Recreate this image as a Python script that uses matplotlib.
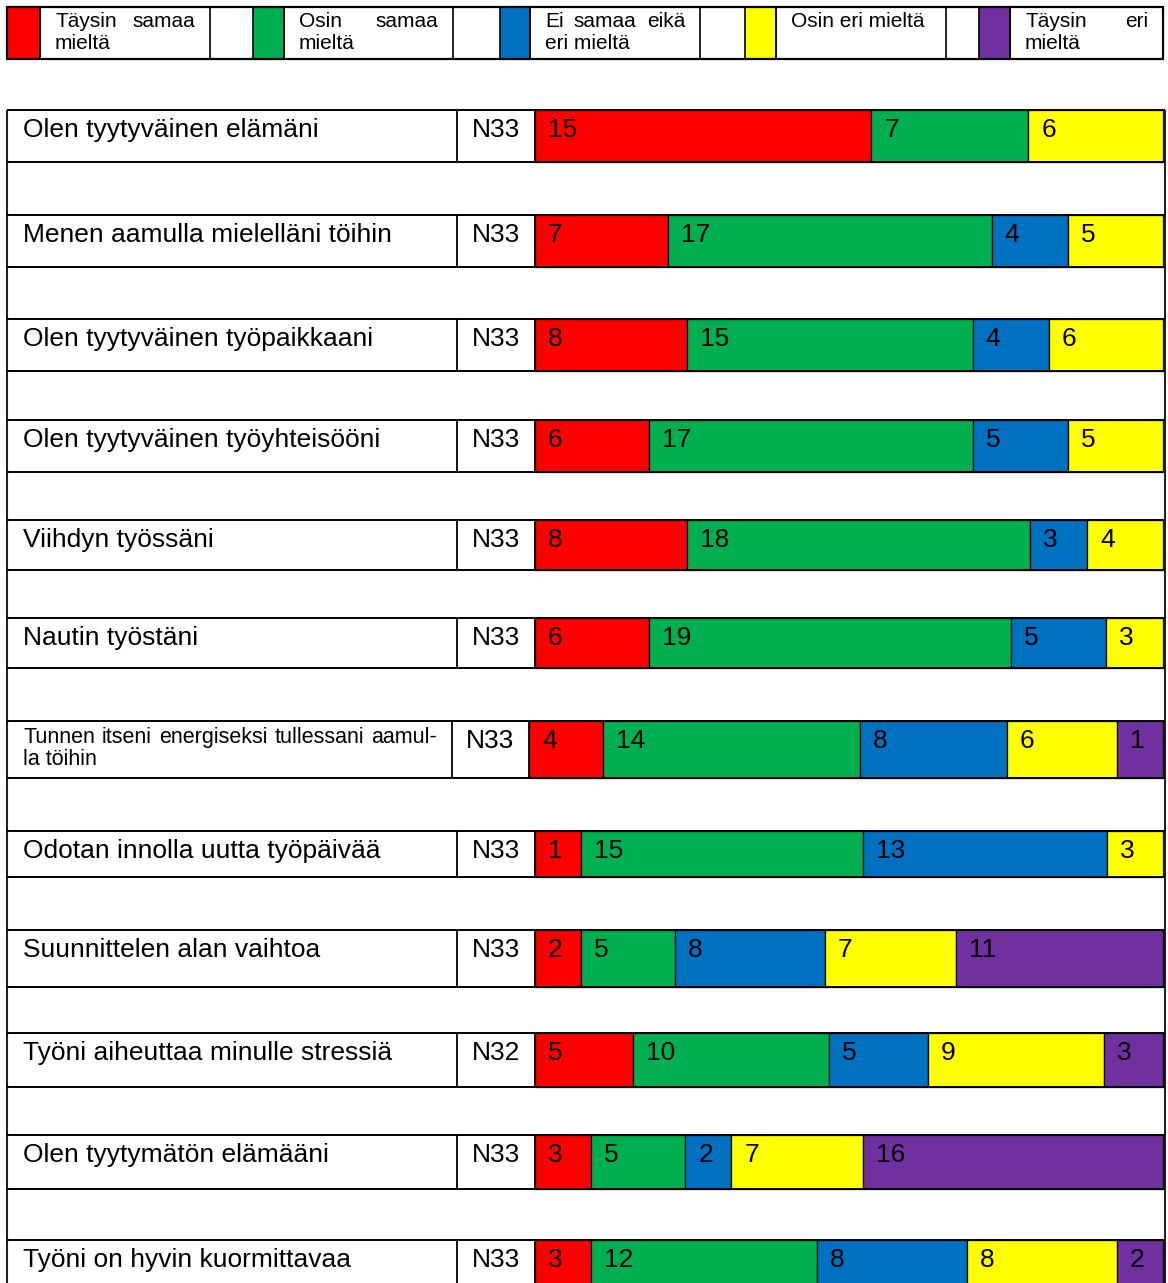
import matplotlib.pyplot as plt
from matplotlib.patches import Rectangle

plt.rcParams['font.family'] = ['Liberation Sans', 'DejaVu Sans']

# Väittämät ja vastausjakaumat
vaittamat = [
    "Olen tyytyväinen elämäni",
    "Menen aamulla mielelläni töihin",
    "Olen tyytyväinen työpaikkaani",
    "Olen tyytyväinen työyhteisööni",
    "Viihdyn työssäni",
    "Nautin työstäni",
    "Tunnen itseni energiseksi tullessani aamul-\nla töihin",
    "Odotan innolla uutta työpäivää",
    "Suunnittelen alan vaihtoa",
    "Työni aiheuttaa minulle stressiä",
    "Olen tyytymätön elämääni",
    "Työni on hyvin kuormittavaa",
]
vastaajat = [33, 33, 33, 33, 33, 33, 33, 33, 33, 32, 33, 33]

taysin_samaa = [15, 7, 8, 6, 8, 6, 4, 1, 2, 5, 3, 3]
osin_samaa = [7, 17, 15, 17, 18, 19, 14, 15, 5, 10, 5, 12]
ei_samaa_eika_eri = [0, 4, 4, 5, 3, 5, 8, 13, 8, 5, 2, 8]
osin_eri = [6, 5, 6, 5, 4, 3, 6, 3, 7, 9, 7, 8]
taysin_eri = [0, 0, 0, 0, 0, 0, 1, 0, 11, 3, 16, 2]

vaihtoehdot = ["Täysin samaa\nmieltä", "Osin samaa\nmieltä", "Ei samaa eikä\neri mieltä",
               "Osin eri mieltä", "Täysin eri\nmieltä"]
varit = ["#FF0000", "#00B050", "#0070C0", "#FFFF00", "#7030A0"]

sarjat = [taysin_samaa, osin_samaa, ei_samaa_eika_eri, osin_eri, taysin_eri]

# taulukon asettelu (pikseleinä)
W, H = 1168, 1283
rivi_yla = [110, 215, 319, 420, 520, 618, 721, 831, 930, 1033, 1135, 1240]
rivi_kork = [52, 52, 52, 52, 50, 50, 57, 46, 57, 54, 54, 52]
vasen, oikea = 7, 1165
palkki_loppu = 1163
min_solu = 46   # kapein solu, johon luku mahtuu
legenda_reunat = [7, 40, 210, 253, 284, 453, 500, 530, 700, 745, 776, 946, 979, 1010, 1163]

fig = plt.figure(figsize=(W / 100, H / 100), dpi=100)
ax = fig.add_axes([0, 0, 1, 1])
ax.set_xlim(0, W)
ax.set_ylim(H, 0)
ax.axis('off')
renderer = fig.canvas.get_renderer()


def tasaa(sanat, x0, x1, y, **kw):
    # tasattu rivi: sanat levitetään koko leveydelle
    tekstit = [ax.text(0, y, s, ha='left', va='baseline', **kw) for s in sanat]
    lev = [t.get_window_extent(renderer).width for t in tekstit]
    vali = (x1 - x0 - sum(lev)) / max(len(sanat) - 1, 1)
    x = x0
    for t, w in zip(tekstit, lev):
        t.set_x(x)
        x += w + vali


def solujen_leveydet(arvot, leveys):
    # leveydet suhteessa arvoihin, pienimmille kuitenkin vähimmäisleveys
    kiinteat = set()
    while True:
        vapaa = leveys - min_solu * len(kiinteat)
        loput = sum(a for k, a in enumerate(arvot) if k not in kiinteat)
        lev = [min_solu if k in kiinteat else a * vapaa / loput for k, a in enumerate(arvot)]
        uudet = {k for k, w in enumerate(lev) if w < min_solu and k not in kiinteat}
        if not uudet:
            return lev
        kiinteat |= uudet


# --- selite ---
leg_yla, leg_ala = 7, 59
ax.add_patch(Rectangle((legenda_reunat[0], leg_yla), legenda_reunat[-1] - legenda_reunat[0],
                       leg_ala - leg_yla, fill=False, lw=1.6, ec='black', zorder=5))
for i, (nimi, vari) in enumerate(zip(vaihtoehdot, varit)):
    x_v, x_t, x_l = legenda_reunat[3 * i], legenda_reunat[3 * i + 1], legenda_reunat[3 * i + 2]
    ax.add_patch(Rectangle((x_v, leg_yla), x_t - x_v, leg_ala - leg_yla, fc=vari, ec='black', lw=1.2))
    ax.vlines([x_t, x_l], leg_yla, leg_ala, colors='black', lw=1.2)
    rivit = nimi.split("\n")
    for j, r in enumerate(rivit):
        y = 27 + 22 * j
        if j < len(rivit) - 1:
            tasaa(r.split(" "), x_t + 15, x_l - 15, y, fontsize=15)
        else:
            ax.text(x_t + 15, y, r, ha='left', va='baseline', fontsize=15)

# --- taulukon ulkoreunat ---
ax.vlines([vasen, oikea], rivi_yla[0], H, colors='#222222', lw=1.5)

# --- rivit ---
for i, teksti in enumerate(vaittamat):
    yla, kork = rivi_yla[i], rivi_kork[i]
    kaksirivinen = "\n" in teksti
    n_reuna = 452 if kaksirivinen else 457
    p_reuna = 529 if kaksirivinen else 535

    ax.hlines([yla, yla + kork], vasen, oikea, colors='black', lw=1.4, zorder=4)
    ax.vlines([n_reuna, p_reuna], yla, yla + kork, colors='black', lw=1.3, zorder=4)

    if kaksirivinen:
        r1, r2 = teksti.split("\n")
        tasaa(r1.split(" "), vasen + 16, n_reuna - 15, yla + 22, fontsize=15.5)
        ax.text(vasen + 16, yla + 44, r2, ha='left', va='baseline', fontsize=15.5)
    else:
        ax.text(vasen + 16, yla + 27, teksti, ha='left', va='baseline', fontsize=19)

    ax.text((n_reuna + p_reuna) / 2, yla + 27, f"N{vastaajat[i]}", ha='center',
            va='baseline', fontsize=19)

    # palkit täyttävät rivin, solut arvojen mukaan
    arvot = [s[i] for s in sarjat]
    mukana = [(a, v) for a, v in zip(arvot, varit) if a > 0]
    leveydet = solujen_leveydet([a for a, _ in mukana], palkki_loppu - p_reuna)
    x = p_reuna
    for (arvo, vari), lev in zip(mukana, leveydet):
        ax.barh(yla + kork / 2, lev, left=x, height=kork, color=vari,
                edgecolor='black', linewidth=0.9, zorder=3)
        ax.text(x + 13, yla + 27, str(arvo), ha='left', va='baseline', fontsize=19, zorder=6)
        x += lev

fig.savefig("out.png", dpi=100)
